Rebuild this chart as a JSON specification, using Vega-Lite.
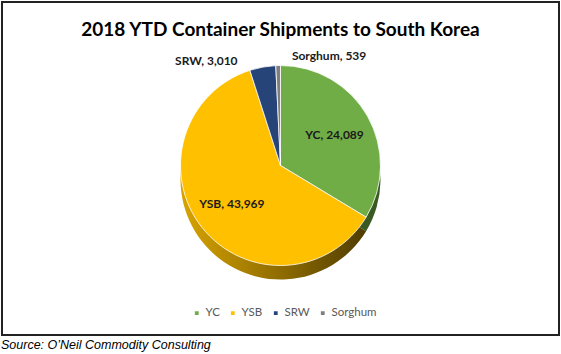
{
  "$schema": "https://vega.github.io/schema/vega-lite/v6.json",
  "padding": {"left": 1, "top": 1, "right": 2, "bottom": 0},
  "background": "white",
  "title": {"text": "Source: O’Neil Commodity Consulting", "orient": "bottom", "anchor": "start", "font": "Liberation Sans", "fontSize": 12.5, "fontStyle": "italic", "fontWeight": "normal", "color": "#000000", "offset": 3},
  "vconcat": [
    {
      "width": 557,
      "height": 333,
      "view": {"stroke": "#222222", "strokeWidth": 2},
      "title": {"text": "2018 YTD Container Shipments to South Korea", "offset": -38, "font": "Lato", "fontSize": 19, "fontWeight": "bold", "color": "#000000", "anchor": "middle"},
      "data": {"values": [
        {"crop": "YC", "value": 24089, "idx": 1},
        {"crop": "YSB", "value": 43969, "idx": 2},
        {"crop": "SRW", "value": 3010, "idx": 3},
        {"crop": "Sorghum", "value": 539, "idx": 4}
      ]},
      "transform": [{"calculate": "datum.crop + ', ' + format(datum.value, ',')", "as": "label"}],
      "encoding": {
        "theta": {"field": "value", "type": "quantitative", "stack": true},
        "order": {"field": "idx", "type": "quantitative"}
      },
      "layer": [
        {
          "mark": {"type": "arc", "outerRadius": 100, "yOffset": 11},
          "encoding": {
            "fill": {
              "condition": {"test": "datum.crop === 'YC'", "value": "#3A5A24"},
              "value": {"gradient": "linear", "x1": 0, "x2": 1, "y1": 0, "y2": 0, "stops": [{"offset": 0, "color": "#D9A400"}, {"offset": 1, "color": "#4F3C00"}]}
            }
          }
        },
        {
          "mark": {"type": "arc", "outerRadius": 100, "yOffset": -3, "stroke": "#ffffff", "strokeWidth": 0.8},
          "encoding": {
            "color": {
              "field": "crop", "type": "nominal",
              "scale": {"domain": ["YC", "YSB", "SRW", "Sorghum"], "range": ["#70AD47", "#FFC000", "#264478", "#7F7F7F"]},
              "legend": {"orient": "none", "legendX": 189, "legendY": 305, "direction": "horizontal", "title": null, "symbolType": "square", "symbolSize": 28, "labelFont": "Lato", "labelFontSize": 11.5, "labelColor": "#595959", "columnPadding": 7, "labelOffset": 3}
            }
          }
        },
        {
          "mark": {"type": "text", "radius": 62, "yOffset": -3, "font": "Lato", "fontSize": 12, "fontWeight": "bold", "color": "#1a1a1a"},
          "encoding": {"text": {"condition": {"test": "datum.crop === 'YC' || datum.crop === 'YSB'", "field": "label"}, "value": ""}}
        },
        {
          "mark": {"type": "text", "radius": 106, "yOffset": -3, "dx": -24, "align": "right", "font": "Lato", "fontSize": 12, "fontWeight": "bold", "color": "#1a1a1a"},
          "encoding": {"text": {"condition": {"test": "datum.crop === 'SRW'", "field": "label"}, "value": ""}}
        },
        {
          "mark": {"type": "text", "radius": 110, "yOffset": -3, "dx": 14, "align": "left", "font": "Lato", "fontSize": 12, "fontWeight": "bold", "color": "#1a1a1a"},
          "encoding": {"text": {"condition": {"test": "datum.crop === 'Sorghum'", "field": "label"}, "value": ""}}
        }
      ]
    }
  ]
}
